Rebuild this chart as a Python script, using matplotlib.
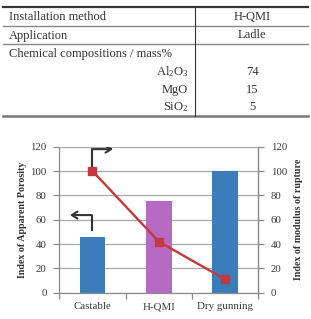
import matplotlib
matplotlib.use("Agg")
import matplotlib.pyplot as plt
from matplotlib.patches import FancyArrowPatch

plt.rcParams['font.family'] = ['Liberation Serif', 'DejaVu Serif']
plt.rcParams['mathtext.fontset'] = 'custom'
plt.rcParams['mathtext.rm'] = 'Liberation Serif'
plt.rcParams['mathtext.it'] = 'Liberation Serif:italic'

# ---- table data ----
table_header = ['Installation method', 'H-QMI']
table_app = ['Application', 'Ladle']
table_chem_title = 'Chemical compositions / mass%'
chem_names = [r'Al$_2$O$_3$', 'MgO', r'SiO$_2$']
chem_values = ['74', '15', '5']

# ---- chart data ----
categories = ['Castable', 'H-QMI', 'Dry gunning']
porosity = [46, 75, 100]
mor = [100, 42, 11]
bar_colors = ['#3b7cba', '#b66ac3', '#3b7cba']

W, H = 311, 319
fig = plt.figure(figsize=(W / 100, H / 100), dpi=100)

# ---- table (pixel coordinates) ----
tx = fig.add_axes([0, 0, 1, 1])
tx.set_xlim(0, W)
tx.set_ylim(H, 0)
tx.axis('off')
tcol = '#333333'
tfs = 9
tx.plot([3, 308], [7.3, 7.3], color='#333333', lw=1.6)
tx.plot([3, 308], [25.5, 25.5], color='#888888', lw=1.0)
tx.plot([3, 308], [44.3, 44.3], color='#888888', lw=1.0)
tx.plot([3, 308], [116, 116], color='#777777', lw=1.8)
tx.plot([195, 195], [7.3, 116], color='#333333', lw=0.8)
tx.text(9, 17, table_header[0], fontsize=tfs, color=tcol, ha='left', va='center')
tx.text(252, 17, table_header[1], fontsize=tfs, color=tcol, ha='center', va='center')
tx.text(9, 35.5, table_app[0], fontsize=tfs, color=tcol, ha='left', va='center')
tx.text(252, 35.5, table_app[1], fontsize=tfs, color=tcol, ha='center', va='center')
tx.text(9, 54.5, table_chem_title, fontsize=tfs, color=tcol, ha='left', va='center')
row_y = [72, 90, 107]
for name, val, y in zip(chem_names, chem_values, row_y):
    tx.text(188, y, name, fontsize=tfs, color=tcol, ha='right', va='center')
    tx.text(252, y, val, fontsize=tfs, color=tcol, ha='center', va='center')

# ---- chart ----
x0, x1 = 59.3, 258.3
y0, y1 = 292.7, 146.7
ax = fig.add_axes([x0 / W, 1 - y0 / H, (x1 - x0) / W, (y0 - y1) / H])
xs = list(range(len(categories)))
ax.set_zorder(1)
ax.bar(xs, porosity, width=0.39, color=bar_colors, zorder=2)
ax.set_xlim(-0.5, 2.5)
ax.set_ylim(0, 120)
ax.set_yticks(range(0, 121, 20))
ax.yaxis.grid(True, color='#a8a8a8', lw=0.9, zorder=0)
ax.set_axisbelow(True)
ax.spines['top'].set_visible(False)
for s in ['left', 'bottom', 'right']:
    ax.spines[s].set_color('#8c8c8c')
    ax.spines[s].set_linewidth(0.9)
tick_col = '#3a3a3a'
tfs2 = 7.8
ax.set_xticks(xs)
ax.set_xticklabels(categories, fontsize=tfs2, color=tick_col)
ax.tick_params(axis='x', which='major', length=0, pad=7)
ax.set_xticks([-0.5, 0.5, 1.5, 2.5], minor=True)
ax.tick_params(axis='x', which='minor', length=4, color='#8c8c8c', width=0.9)
ax.tick_params(axis='y', length=4, color='#8c8c8c', width=0.9, labelsize=tfs2,
               labelcolor=tick_col, pad=5)

ax2 = ax.twinx()
ax2.set_ylim(0, 120)
ax2.set_yticks(range(0, 121, 20))
for s in ['top', 'left', 'bottom']:
    ax2.spines[s].set_visible(False)
ax2.spines['right'].set_color('#8c8c8c')
ax2.spines['right'].set_linewidth(0.9)
ax2.tick_params(axis='y', length=4, color='#8c8c8c', width=0.9, labelsize=tfs2,
                labelcolor=tick_col, pad=5)

# line on top axes
ax.plot(xs, mor, color='#c4393b', lw=1.7, marker='s', ms=6,
        mfc='#c4393b', mec='#c4393b', zorder=4)

# arrows
acol = '#333333'
alw = 1.5
astyle = '->,head_length=4,head_width=2.5'
ax.plot([-0.01, -0.01], [103.5, 118], color=acol, lw=alw, solid_capstyle='butt', zorder=5)
ax.add_patch(FancyArrowPatch((-0.01, 118), (0.31, 118), arrowstyle=astyle,
                             mutation_scale=1, color=acol, lw=alw, zorder=5,
                             shrinkA=0, shrinkB=0))
ax.plot([-0.01, -0.01], [51, 63.8], color=acol, lw=alw, solid_capstyle='butt', zorder=5)
ax.add_patch(FancyArrowPatch((-0.01, 63.8), (-0.34, 63.8), arrowstyle=astyle,
                             mutation_scale=1, color=acol, lw=alw, zorder=5,
                             shrinkA=0, shrinkB=0))

ax.text(-0.184, 0.5, 'Index of Apparent Porosity', transform=ax.transAxes, rotation=90,
        ha='center', va='center', fontsize=7.2, fontweight='bold', color='#333333')
ax.text(1.2, 0.5, 'Index of modulus of rupture', transform=ax.transAxes, rotation=90,
        ha='center', va='center', fontsize=7.2, fontweight='bold', color='#333333')

fig.savefig('out.png', dpi=100)
